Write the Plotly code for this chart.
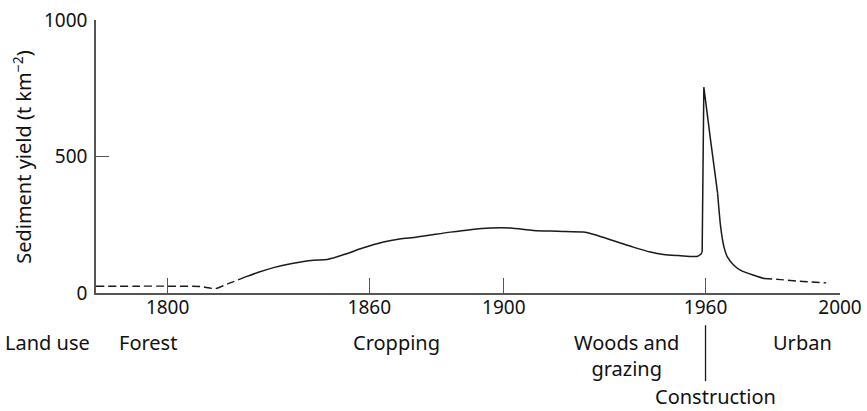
import plotly.graph_objects as go

# --- data ---
early_years = [1778.7, 1790, 1800.2, 1809.7, 1814.2, 1818, 1823]
early_vals = [25, 25, 25, 24, 16, 34, 58]

main_years = [1823, 1827, 1831.5, 1837, 1843.4, 1847.5, 1853.5, 1858, 1864.2, 1869, 1874.3,
              1884.1, 1890, 1896.0, 1902.0, 1908.8, 1916, 1923.7, 1925.8, 1929.5, 1933.8,
              1938.5, 1943.6, 1947.5, 1952, 1957.5, 1958.5, 1959.0, 1959.5, 1961.5, 1963.6,
              1964.5, 1965.5, 1966.5, 1968.5, 1970.5, 1974.4, 1977.4]
main_vals = [58, 76, 93, 108, 120, 123, 145, 165, 187, 198, 205,
             223, 232, 238, 238, 229, 226, 223, 218, 204, 187,
             168, 150, 141, 137, 134, 141, 150, 754, 560, 365,
             242, 168, 132, 101, 83, 65, 53]

late_years = [1977.4, 1982.4, 1988, 1995.9]
late_vals = [53, 49, 43, 37]

x_ticks = [1800, 1860, 1900, 1960, 2000]
y_ticks = [0, 500, 1000]

land_use_labels = ["Forest", "Cropping", "Woods and<br>grazing", "Urban"]
land_use_x = [1794.3, 1868.1, 1936.4, 1988.9]
construction_year = 1960

FONT = "Noto Sans"
LINE = "#1a1a1a"
AXIS = "#555555"
FS = 20

fig = go.Figure()


def add_line(xs, ys, dash=None, shape="linear", smoothing=None):
    ln = dict(color=LINE, width=1.5, shape=shape)
    if dash:
        ln["dash"] = dash
        ln["width"] = 1.4
    if smoothing is not None:
        ln["smoothing"] = smoothing
    fig.add_trace(go.Scatter(x=xs, y=ys, mode="lines", line=ln,
                             hoverinfo="skip", showlegend=False))


add_line(early_years, early_vals, dash="8px,4px", shape="spline", smoothing=0.6)
# solid curve: gentle part (smoothed), spike (straight), recession (smoothed)
i_peak = main_vals.index(max(main_vals))
add_line(main_years[:i_peak], main_vals[:i_peak], shape="spline", smoothing=0.8)
add_line(main_years[i_peak - 1:i_peak + 3], main_vals[i_peak - 1:i_peak + 3])
add_line(main_years[i_peak + 2:], main_vals[i_peak + 2:], shape="spline", smoothing=0.6)
add_line(late_years, late_vals, dash="8px,4px", shape="spline", smoothing=0.6)

fig.update_layout(
    width=867, height=411,
    margin=dict(l=96, r=27, t=20, b=118),
    paper_bgcolor="white", plot_bgcolor="white",
    font=dict(family=FONT, size=FS, color="#111111"),
    xaxis=dict(range=[1778.7, 2000], tickvals=x_ticks, ticktext=[str(v) for v in x_ticks],
               showgrid=False, zeroline=False, showline=True, linecolor=AXIS, linewidth=1.6,
               ticks="inside", ticklen=15, tickwidth=1.4, tickcolor=AXIS, automargin=False,
               ticklabelstandoff=-4, tickfont=dict(size=19), ticklabeloverflow="allow"),
    yaxis=dict(range=[0, 1000], tickvals=y_ticks, ticktext=[str(v) for v in y_ticks],
               showgrid=False, zeroline=False, showline=True, linecolor=AXIS, linewidth=1.6,
               ticks="inside", ticklen=13, tickwidth=1.4, tickcolor=AXIS, automargin=False,
               ticklabelstandoff=3, tickfont=dict(size=19), ticklabeloverflow="allow"),
)

# y-axis title
fig.add_annotation(text="Sediment yield (t km<sup>−2</sup>)", xref="paper", yref="paper",
                   x=-0.099, y=0.5, textangle=-90, showarrow=False,
                   xanchor="center", yanchor="middle", font=dict(size=FS))

# land use row
fig.add_annotation(text="Land use", xref="paper", yref="paper", x=-0.0648, y=-0.125,
                   showarrow=False, xanchor="center", yanchor="top", font=dict(size=FS))
for lab, xv in zip(land_use_labels, land_use_x):
    fig.add_annotation(text=lab, xref="x", yref="paper", x=xv, y=-0.125,
                       showarrow=False, xanchor="center", yanchor="top", font=dict(size=FS))

fig.add_shape(type="line", xref="x", yref="paper", x0=construction_year, x1=construction_year,
              y0=-0.118, y1=-0.323, line=dict(color=LINE, width=1.3))
fig.add_annotation(text="Construction", xref="x", yref="paper", x=1963.0, y=-0.380,
                   showarrow=False, xanchor="center", yanchor="middle", font=dict(size=FS))

# remove the default 8px page margin so the figure sits at the window's corner
fig.write_html("out.html", config={"displayModeBar": False},
               post_script="document.body.style.margin='0';")
